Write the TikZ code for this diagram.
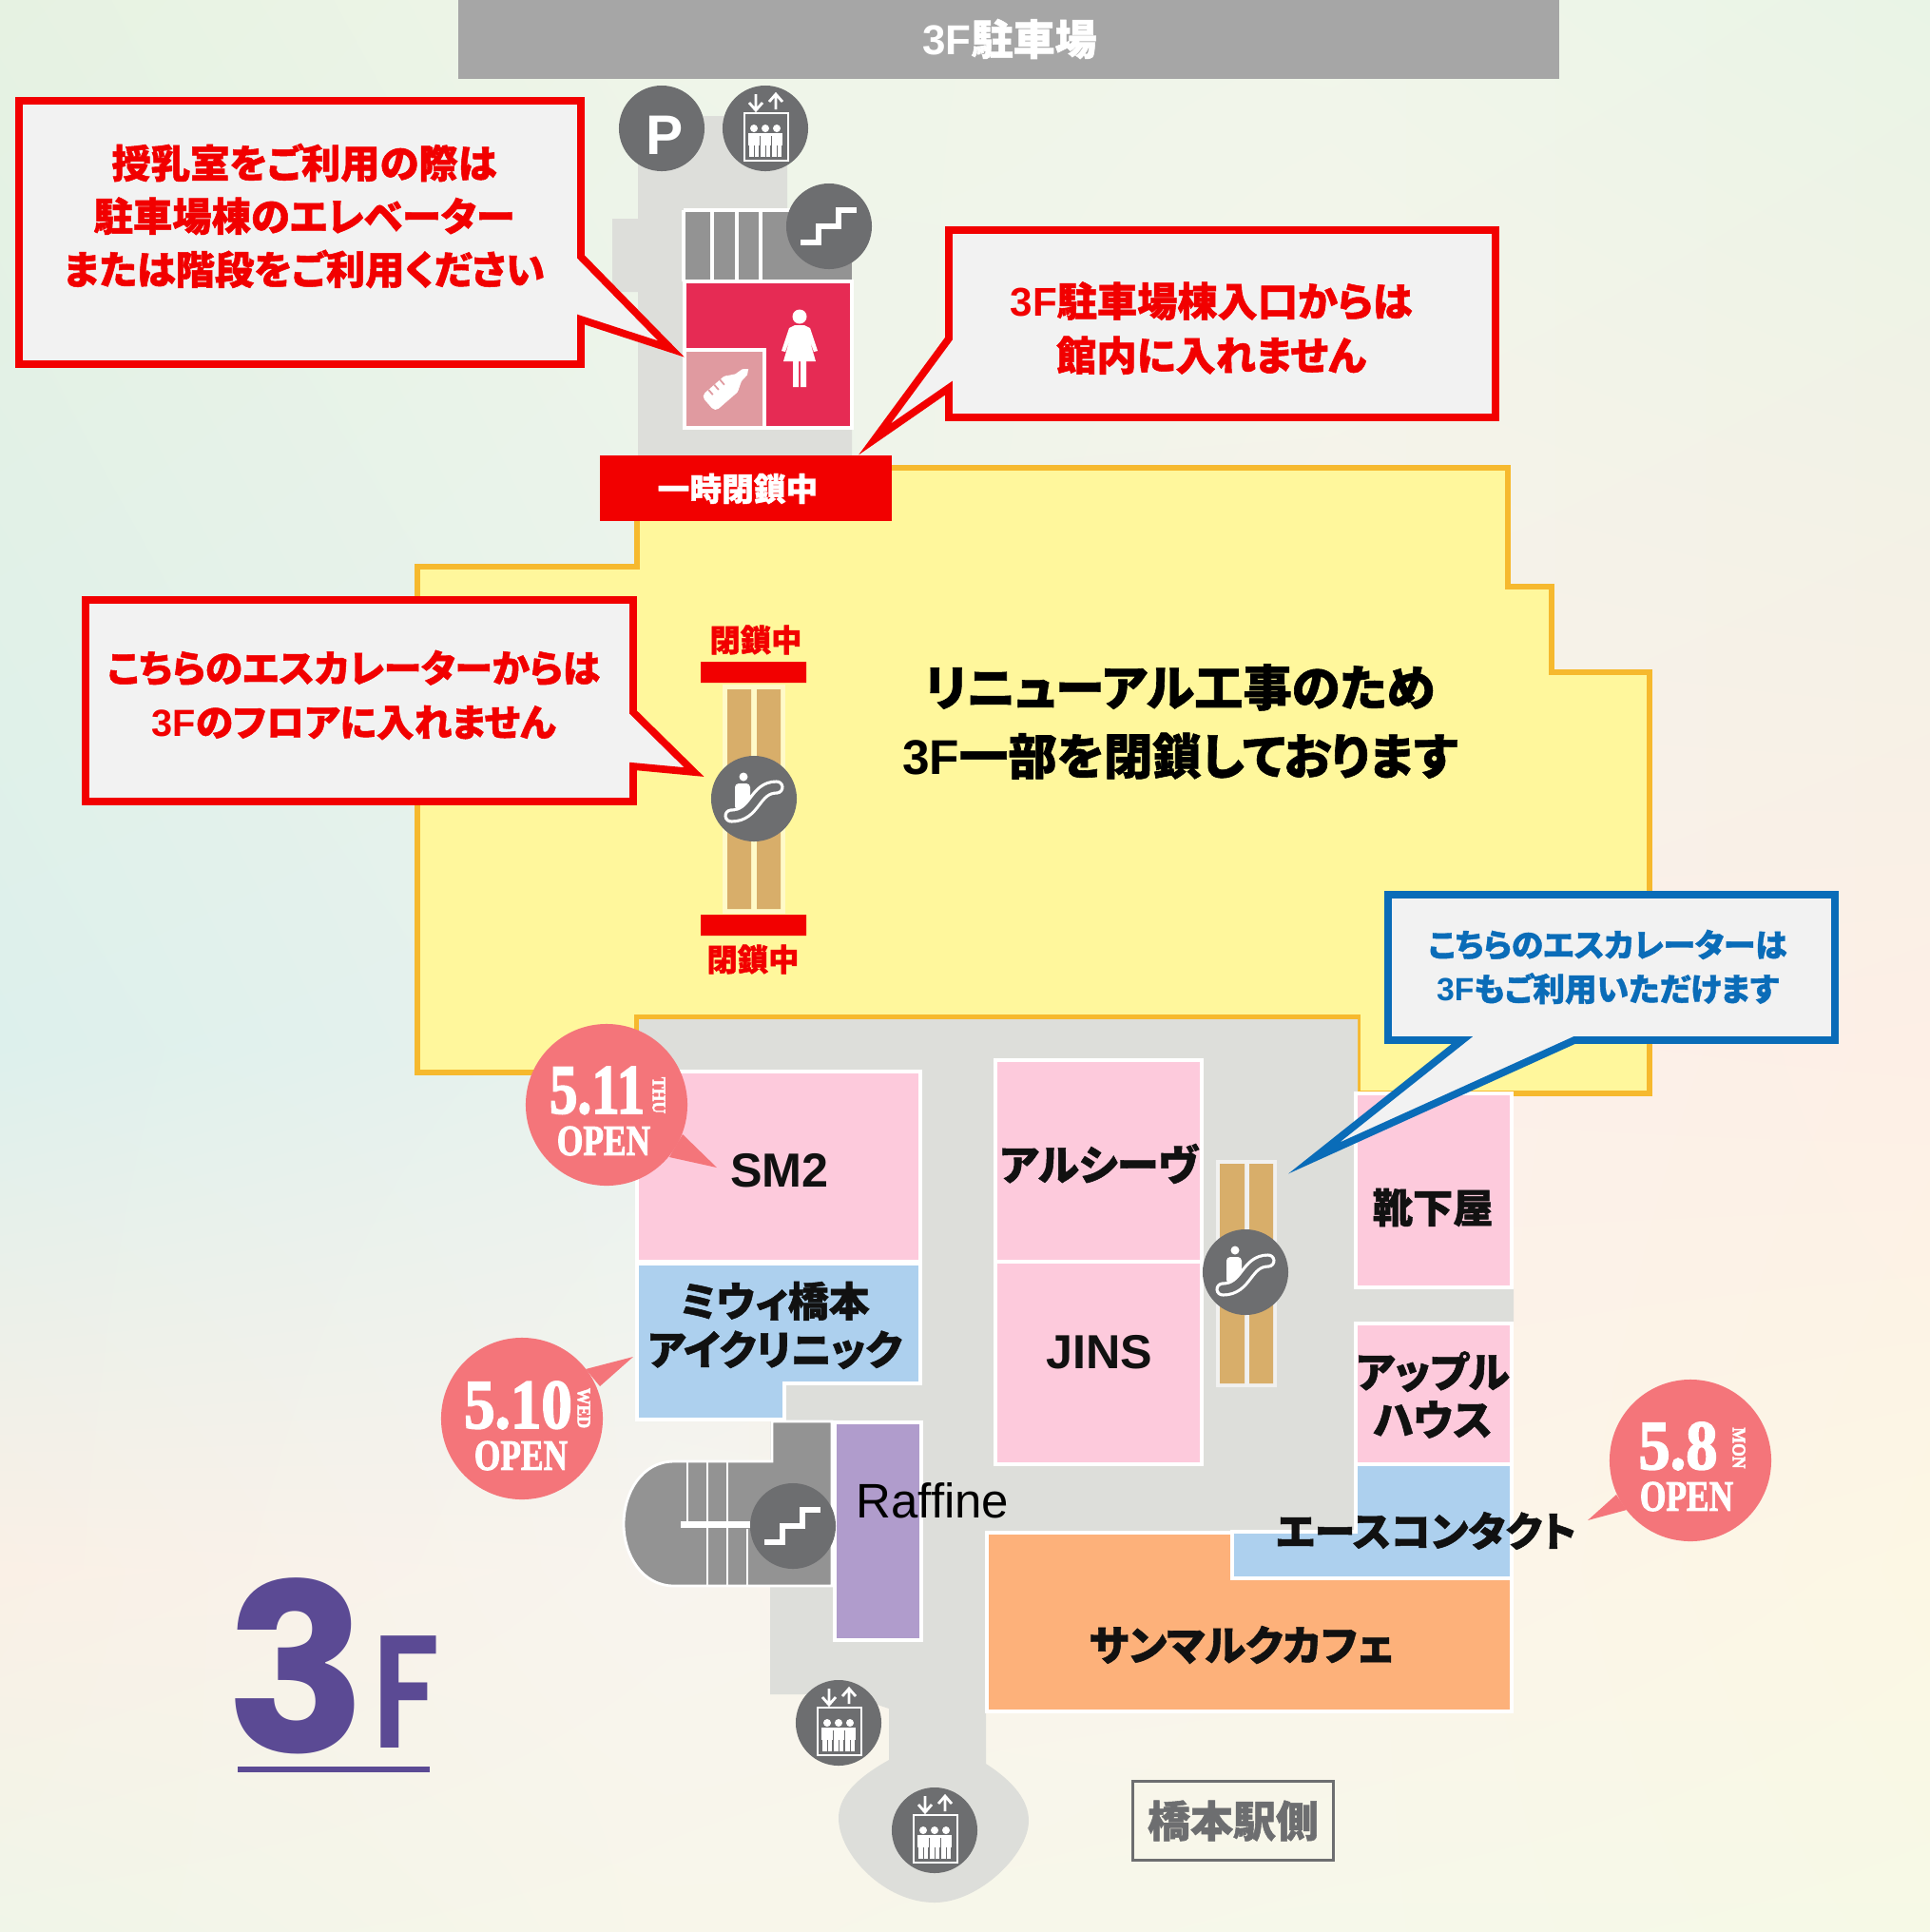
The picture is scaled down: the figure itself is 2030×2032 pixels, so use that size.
\documentclass[tikz,border=0pt]{standalone}
\usepackage{fontspec}
\usepackage{tikz}
\usetikzlibrary{shadings}
\newfontfamily\jp[RawFeature=+palt,BoldFeatures={FakeBold=1.2}]{Noto Sans CJK JP}
\newfontfamily\arial{Liberation Sans}
\newfontfamily\poster[BoldFeatures={FakeBold=2.5}]{Liberation Serif}
\newfontfamily\logofont{Poppins}
\newfontfamily\logosmall{Poppins SemiBold}
\definecolor{barra}{HTML}{A6A6A6}
\definecolor{hallgrey}{HTML}{DDDEDA}
\definecolor{stairgrey}{HTML}{939393}
\definecolor{icongrey}{HTML}{6D6E70}
\definecolor{wcred}{HTML}{E62B54}
\definecolor{babypink}{HTML}{E09AA0}
\definecolor{closedyellow}{HTML}{FFF79C}
\definecolor{closedline}{HTML}{F6B92E}
\definecolor{shoppink}{HTML}{FDCADC}
\definecolor{shopblue}{HTML}{ADD0EE}
\definecolor{shoporange}{HTML}{FDB17A}
\definecolor{shoppurple}{HTML}{B09CCC}
\definecolor{rampbrown}{HTML}{D8AE6A}
\definecolor{alertred}{HTML}{F20000}
\definecolor{notefill}{HTML}{F2F2F2}
\definecolor{noteblue}{HTML}{0A6CB8}
\definecolor{badgered}{HTML}{F4757A}
\definecolor{logopurple}{HTML}{5B4A94}
\definecolor{inkblack}{HTML}{111111}
\definecolor{a1}{HTML}{E6F2E2}\definecolor{a2}{HTML}{EFF5E8}\definecolor{a3}{HTML}{F0F6EA}\definecolor{a4}{HTML}{E9F4E6}
\definecolor{b1}{HTML}{DDF0EC}\definecolor{b2}{HTML}{E8F2EE}\definecolor{b3}{HTML}{FBF0EA}\definecolor{b4}{HTML}{FDEFE6}
\definecolor{c1}{HTML}{FAF0E6}\definecolor{c2}{HTML}{F8F4EE}\definecolor{c3}{HTML}{FCF4EA}\definecolor{c4}{HTML}{FCF7E4}
\definecolor{d1}{HTML}{F0F5E8}\definecolor{d2}{HTML}{F8F6EA}\definecolor{d3}{HTML}{F6F8EA}\definecolor{d4}{HTML}{F6F9E6}
\newcommand{\flr}{{\arial 3F}}
\tikzset{
    lbl/.style 2 args={align=center,inner sep=0pt,font=\jp\bfseries\fontsize{#1}{#2}\selectfont},
    shop/.style={draw=white,line width=1.1pt,line join=miter},
    note red/.style={draw=alertred,fill=notefill,line width=2.2pt,miter limit=30},
    note blue/.style={draw=noteblue,fill=notefill,line width=2.2pt,miter limit=30},
    icon disc/.style={circle,fill=icongrey,minimum size=.9cm,inner sep=0pt},
    badge/.style={circle,fill=badgered,minimum size=1.7cm,inner sep=0pt},
    badge text/.style={text=white,inner sep=0pt,font=\poster\bfseries\fontsize{#1}{#1}\selectfont},
    elevicon/.pic={
        \draw[white,line width=.6pt] (-22,-16) rectangle (24,34);
        \draw[white,line width=.8pt] (-10,-36) -- (-10,-20) (-17,-27) -- (-10,-19) -- (-3,-27);
        \draw[white,line width=.8pt] (11,-20) -- (11,-36) (4,-28) -- (11,-36) -- (18,-28);
        \foreach \px in {-12,0,12} {
            \fill[white] (\px,0) circle[radius=.04cm];
            \fill[white] (\px-6,5) rectangle (\px+6,18);
            \fill[white] (\px-5,18) rectangle (\px+5,30);
        }
        \draw[icongrey,line width=.25pt] (-6,8) -- (-6,30) (6,8) -- (6,30) (-12,18) -- (-12,30) (0,18) -- (0,30) (12,18) -- (12,30);
    },
    stairicon/.pic={
        \draw[white,line width=1.9pt] (-30,17) -- (-11,17) -- (-11,0) -- (10,0) -- (10,-17) -- (29,-17);
    },
    escicon/.pic={
        \fill[white] (-11,-23) circle[radius=.045cm];
        \fill[white,rounded corners=.04cm] (-20,-16) rectangle (-4,12);
        \draw[white,line width=4.3pt,line cap=round] (-24,18) .. controls (2,18) and (0,-12) .. (24,-12);
        \draw[icongrey,line width=2.5pt,line cap=round] (-24,18) .. controls (2,18) and (0,-12) .. (24,-12);
    },
}
\begin{document}
\begin{tikzpicture}[x=0.01cm,y=-0.01cm]
    \useasboundingbox (0,0) rectangle (2030,2032);

    % background
    \foreach \xa/\xb/\ya/\yb/\ul/\ur/\dl/\dr in {
        0/701/0/1101/a1/a2/b1/b2,700/1401/0/1101/a2/a3/b2/b3,1400/2030/0/1101/a3/a4/b3/b4,
        0/701/1100/1651/b1/b2/c1/c2,700/1401/1100/1651/b2/b3/c2/c3,1400/2030/1100/1651/b3/b4/c3/c4,
        0/701/1650/2032/c1/c2/d1/d2,700/1401/1650/2032/c2/c3/d2/d3,1400/2030/1650/2032/c3/c4/d3/d4} {
        \shade[upper left=\ul,upper right=\ur,lower left=\dl,lower right=\dr] (\xa,\ya) rectangle (\xb,\yb);
    }

    \fill[barra] (482,0) rectangle (1640,83);
    \node[lbl={12.5pt}{15pt},text=white] (parkbar) at (1062,41) {\flr 駐車場};

    % parking wing
    \fill[hallgrey] (671,122) -- (828,122) -- (828,222) -- (896,222) -- (896,480) -- (671,480) -- (671,307) -- (644,307) -- (644,230) -- (671,230) -- cycle;
    \fill[stairgrey] (719,221) rectangle (896,296);
    \draw[white,line width=1pt] (719,221) -- (896,221) (719,221) -- (719,296) (749,221) -- (749,296) (775,221) -- (775,296) (800,221) -- (800,296);
    \draw[shop,fill=wcred] (720,296) rectangle (896,450);
    \draw[shop,fill=babypink] (720,368) rectangle (804,450);

    % woman
    \fill[white] (841,333) circle[radius=.075cm];
    \fill[white] (836,342) -- (846,342) -- (852,345) -- (860,369) -- (856,370) -- (851,356) -- (858,380) -- (824,380) -- (831,356) -- (826,370) -- (822,369) -- (830,345) -- cycle;
    \fill[white] (834,380) rectangle (840,407) (842,380) rectangle (848,407);
    % bottle
    \begin{scope}[shift={(763,409)},rotate=41]
        \fill[white,rounded corners=.05cm] (-24,-11) rectangle (12,11);
        \fill[white] (11,-9) -- (18,-5) -- (27,-4) -- (32,0) -- (27,4) -- (18,5) -- (11,9) -- cycle;
        \draw[babypink,line width=.5pt] (-14,-11) -- (-14,-4) (-6,-11) -- (-6,-4) (2,-11) -- (2,-4);
    \end{scope}

    % closed part of the floor
    \draw[fill=closedyellow,draw=closedline,line width=1.5pt,miter limit=10]
        (670,492) -- (1586,492) -- (1586,617) -- (1632,617) -- (1632,707) -- (1735,707) -- (1735,1150)
        -- (1428,1150) -- (1428,1070) -- (670,1070) -- (670,1128) -- (439,1128) -- (439,596) -- (670,596) -- cycle;

    % hall
    \fill[hallgrey] (672,1072) -- (1428,1072) -- (1428,1355) -- (1592,1355) -- (1592,1390) -- (1428,1390) -- (1428,1612)
        -- (1037,1612) -- (1037,1855) .. controls (1068,1875) and (1082,1895) .. (1082,1915)
        .. controls (1082,1950) and (1030,2001) .. (983,2001) .. controls (930,2001) and (882,1950) .. (882,1912)
        .. controls (882,1885) and (910,1865) .. (935,1851) -- (935,1797) -- (890,1782) -- (810,1782) -- (810,1495) -- (825,1495) -- (825,1330) -- (672,1330) -- cycle;

    % shops
    \draw[shop,fill=shoppink] (670,1127) rectangle (968,1327);
    \draw[shop,fill=shopblue] (670,1329) -- (968,1329) -- (968,1455) -- (825,1455) -- (825,1493) -- (670,1493) -- cycle;
    \draw[shop,fill=shoppink] (1047,1115) rectangle (1264,1327);
    \draw[shop,fill=shoppink] (1047,1327) rectangle (1264,1540);
    \draw[shop,fill=shoppink] (1426,1150) rectangle (1590,1354);
    \draw[shop,fill=shoppink] (1426,1392) rectangle (1590,1540);
    \draw[shop,fill=shopblue] (1426,1540) -- (1590,1540) -- (1590,1660) -- (1296,1660) -- (1296,1611) -- (1426,1611) -- cycle;
    \draw[shop,fill=shoporange] (1038,1612) -- (1296,1612) -- (1296,1660) -- (1590,1660) -- (1590,1800) -- (1038,1800) -- cycle;
    \draw[shop,fill=shoppurple] (878,1496) rectangle (969,1725);

    % stairs south
    \draw[fill=stairgrey,draw=white,line width=.8pt] (812,1495) -- (875,1495) -- (875,1668) -- (709,1668)
        .. controls (675,1668) and (656,1635) .. (656,1603) .. controls (656,1570) and (675,1537) .. (709,1537) -- (812,1537) -- cycle;
    \draw[white,line width=.8pt] (723,1537) -- (723,1601) (744,1537) -- (744,1668) (765,1537) -- (765,1668) (786,1608) -- (786,1668);
    \draw[white,line width=2pt] (716,1603) -- (792,1603);

    % escalators
    \fill[white,opacity=.45] (760,720) rectangle (826,961);
    \fill[rampbrown] (765,725) rectangle (790,956) (796,725) rectangle (821,956);
    \fill[alertred] (737,696) rectangle (848,718) (737,962) rectangle (848,984);
    \fill[white,opacity=.6] (1279,1220) rectangle (1343,1459);
    \fill[rampbrown] (1283,1224) rectangle (1309,1455) (1314,1224) rectangle (1339,1455);

    % icons
    \node[icon disc] (parkp) at (696,135) {};
    \node[inner sep=0pt,text=white,font=\arial\bfseries\fontsize{16.7pt}{17pt}\selectfont] (parkletter) at (699,142) {P};
    \node[icon disc] (elevpark) at (805,135) {};
    \pic at (elevpark) {elevicon};
    \node[icon disc] (stairpark) at (872,238) {};
    \pic at (stairpark) {stairicon};
    \node[icon disc] (escleft) at (793,840) {};
    \pic at (escleft) {escicon};
    \node[icon disc] (escright) at (1310,1338) {};
    \pic at (escright) {escicon};
    \node[icon disc] (stairsouth) at (834,1605) {};
    \pic at (stairsouth) {stairicon};
    \node[icon disc] (elevmid) at (882,1812) {};
    \pic at (elevmid) {elevicon};
    \node[icon disc] (elevend) at (983,1925) {};
    \pic at (elevend) {elevicon};

    % callouts
    \fill[alertred] (631,479) rectangle (938,548);
    \node[lbl={9.6pt}{12pt},text=white] (closedgate) at (776,514) {一時閉鎖中};

    \draw[note red] (20,106) -- (611,106) -- (611,270) -- (706,367) -- (611,336) -- (611,383) -- (20,383) -- cycle;
    \node[lbl={11.75pt}{15.9pt},text=alertred] (notenursing) at (320,227) {授乳室をご利用の際は\\駐車場棟のエレベーター\\または階段をご利用ください};

    \draw[note red] (998,242) -- (1573,242) -- (1573,439) -- (998,439) -- (998,408) -- (920,462) -- (998,356) -- cycle;
    \node[lbl={12pt}{16.2pt},text=alertred] (noteentrance) at (1274,345) {\flr 駐車場棟入口からは\\館内に入れません};

    \draw[note red] (90,631) -- (666,631) -- (666,749) -- (730,812) -- (666,806) -- (666,843) -- (90,843) -- cycle;
    \node[lbl={11.3pt}{16.2pt},text=alertred] (noteescalator) at (372,731) {こちらのエスカレーターからは\\\flr のフロアに入れません};

    \draw[note blue] (1460,941) -- (1930,941) -- (1930,1094) -- (1656,1094) -- (1382,1218) -- (1538,1094) -- (1460,1094) -- cycle;
    \node[lbl={9.6pt}{13.2pt},text=noteblue] (noteopen) at (1691,1017) {こちらのエスカレーターは\\\flr もご利用いただけます};

    \node[lbl={14.6pt}{20.5pt},text=black] (mainnote) at (1241,759) {リニューアル工事のため\\\flr 一部を閉鎖しております};
    \node[lbl={9.2pt}{11pt},text=alertred] (closedtop) at (795,673) {閉鎖中};
    \node[lbl={9.2pt}{11pt},text=alertred] (closedbottom) at (792,1009) {閉鎖中};

    % shop names
    \node[inner sep=0pt,text=inkblack,font=\arial\bfseries\fontsize{14.3pt}{16pt}\selectfont] (sm) at (820,1231) {SM2};
    \node[inner sep=0pt,text=inkblack,font=\arial\bfseries\fontsize{14.3pt}{16pt}\selectfont] (jins) at (1156,1422) {JINS};
    \node[inner sep=0pt,text=black,font=\arial\fontsize{14.5pt}{16pt}\selectfont] (raffine) at (981,1578) {Raffine};
    \node[lbl={12.5pt}{14pt},text=inkblack] (arsive) at (1156,1224) {アルシーヴ};
    \node[lbl={12pt}{14pt},text=inkblack] (socks) at (1507,1270) {靴下屋};
    \node[lbl={12.2pt}{14.5pt},text=inkblack] (clinic) at (815,1394) {ミウィ橋本\\アイクリニック};
    \node[lbl={12.5pt}{14.3pt},text=inkblack] (apple) at (1507,1467) {アップル\\ハウス};
    \node[lbl={12.2pt}{14pt},text=inkblack] (contact) at (1500,1610) {エースコンタクト};
    \node[lbl={12.4pt}{14pt},text=inkblack] (cafe) at (1306,1730) {サンマルクカフェ};

    % open badges
    \node[badge] (open511) at (638,1162) {};
    \fill[badgered] (718,1193) -- (754,1228) -- (704,1217) -- cycle;
    \node[badge text=21pt] (num511) at (628,1147) {\scalebox{.8}[1]{5.11}};
    \node[badge text=12.9pt] (txt511) at (635,1200) {\scalebox{.78}[1]{OPEN}};
    \node[badge text=5.6pt,rotate=-90] (day511) at (693,1152) {\scalebox{.9}[1]{THU}};

    \node[badge] (open510) at (549,1492) {};
    \fill[badgered] (616,1440) -- (666,1427) -- (631,1458) -- cycle;
    \node[badge text=21pt] (num510) at (545,1478) {\scalebox{.88}[1]{5.10}};
    \node[badge text=12.9pt] (txt510) at (548,1531) {\scalebox{.78}[1]{OPEN}};
    \node[badge text=5.6pt,rotate=-90] (day510) at (614,1481) {\scalebox{.9}[1]{WED}};

    \node[badge] (open58) at (1778,1536) {};
    \fill[badgered] (1700,1572) -- (1670,1599) -- (1711,1588) -- cycle;
    \node[badge text=21pt] (num58) at (1765,1521) {\scalebox{.9}[1]{5.8}};
    \node[badge text=12.9pt] (txt58) at (1774,1574) {\scalebox{.78}[1]{OPEN}};
    \node[badge text=5.6pt,rotate=-90] (day58) at (1829,1523) {\scalebox{.9}[1]{MON}};

    % direction and floor mark
    \node[draw=icongrey,line width=.7pt,minimum width=2.11cm,minimum height=.83cm,inner sep=0pt,
        text=icongrey,font=\jp\bfseries\fontsize{12.8pt}{14pt}\selectfont] (station) at (1297,1915) {橋本駅側};
    \node[inner sep=0pt,text=logopurple,font=\logofont\bfseries\fontsize{70pt}{70pt}\selectfont] (floor3) at (312,1752) {3};
    \node[inner sep=0pt,text=logopurple,font=\logosmall\fontsize{48pt}{48pt}\selectfont] (floorf) at (427,1780) {\scalebox{.8}[1]{F}};
    \fill[logopurple] (250,1858) rectangle (452,1864);
\end{tikzpicture}
\end{document}
